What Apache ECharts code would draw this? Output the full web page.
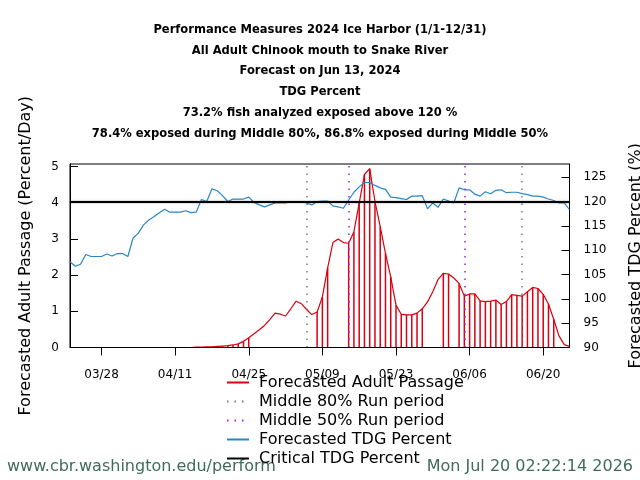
<!DOCTYPE html>
<html>
<head>
<meta charset="utf-8">
<script src="https://cdn.jsdelivr.net/npm/echarts@6/dist/echarts.min.js"></script>
<style>
  html, body { margin: 0; padding: 0; background: #fff; }
  #chart { width: 640px; height: 480px; }
</style>
</head>
<body>
<div id="chart"></div>
<script>
// daily values, 03/22 .. 06/25 (2024)
const passage = [
  0, 0, 0, 0, 0, 0, 0, 0, 0, 0,
  0, 0, 0, 0, 0, 0, 0, 0, 0, 0,
  0, 0, 0, 0, 0.01, 0.01, 0.02, 0.02, 0.03, 0.04,
  0.05, 0.07, 0.10, 0.17, 0.27, 0.38, 0.49, 0.61, 0.77, 0.95,
  0.92, 0.87, 1.07, 1.28, 1.21, 1.05, 0.91, 0.98, 1.40, 2.20,
  2.90, 3.00, 2.90, 2.88, 3.20, 3.99, 4.78, 4.94, 4.04, 3.34,
  2.60, 1.95, 1.17, 0.92, 0.90, 0.90, 0.95, 1.07, 1.26, 1.54,
  1.88, 2.05, 2.03, 1.92, 1.77, 1.42, 1.48, 1.48, 1.29, 1.27,
  1.28, 1.31, 1.19, 1.27, 1.46, 1.44, 1.42, 1.54, 1.66, 1.63,
  1.47, 1.20, 0.78, 0.32, 0.08, 0.03
];

const tdg = [
  107.6, 106.7, 107.1, 109.1, 108.7, 108.7, 108.7, 109.2, 108.8, 109.3,
  109.3, 108.7, 112.5, 113.5, 115.2, 116.2, 116.9, 117.7, 118.4, 117.8,
  117.8, 117.8, 118.1, 117.7, 117.8, 120.4, 120.0, 122.6, 122.2, 121.2,
  120.0, 120.5, 120.5, 120.5, 120.9, 119.8, 119.3, 118.9, 119.3, 119.7,
  119.7, 119.7, 119.9, 119.9, 119.9, 119.7, 119.3, 120.0, 120.1, 120.1,
  119.1, 118.9, 118.6, 120.3, 121.9, 123.0, 123.9, 123.9, 123.3, 122.8,
  122.5, 120.9, 120.8, 120.6, 120.4, 121.1, 121.1, 121.2, 118.5, 119.7,
  118.8, 120.5, 120.1, 119.7, 122.8, 122.4, 122.4, 121.5, 121.1, 122.0,
  121.6, 122.3, 122.4, 121.8, 121.9, 121.9, 121.6, 121.4, 121.1, 121.1,
  120.9, 120.5, 120.2, 119.7, 119.7, 118.3
];

// days (index into passage) when fish were exposed above the critical level
const exposedDays = [
  25, 26, 27, 28, 29, 30, 31, 32, 33, 34,
  47, 48, 49,
  53, 54, 55, 56, 57, 58, 59, 60, 61, 62, 63, 64, 65, 66, 67,
  71, 72,
  74, 75, 76, 77, 78, 79, 80, 81, 82, 83, 84, 85, 86, 87, 88, 89, 90, 91, 92
];

const tickLabels = ['03/28', '04/11', '04/25', '05/09', '05/23', '06/06', '06/20'];
const run80 = ['05/06', '06/16'];
const run50 = ['05/14', '06/05'];
const criticalTdg = 120;

const titleLines = [
  'Performance Measures 2024 Ice Harbor (1/1-12/31)',
  'All Adult Chinook mouth to Snake River',
  'Forecast on Jun 13, 2024',
  'TDG Percent',
  '73.2% fish analyzed exposed above 120 %',
  '78.4% exposed during Middle 80%, 86.8% exposed during Middle 50%'
];

const pad = (n) => (n < 10 ? '0' + n : '' + n);
const days = passage.map((v, i) => {
  const d = new Date(2024, 2, 22 + i);
  return pad(d.getMonth() + 1) + '/' + pad(d.getDate());
});

const drops = passage.map((v, i) => (exposedDays.indexOf(i) >= 0 ? v : '-'));

const showTick = (idx, value) => tickLabels.indexOf(value) >= 0;

const RED = '#d9000f';
const BLUE = '#2a86c6';
const GRAY = '#7a7a7a';
const PURPLE = '#a020f0';

const chart = echarts.init(document.getElementById('chart'), null, { renderer: 'canvas' });

chart.setOption({
  animation: false,
  backgroundColor: '#fff',
  textStyle: { fontFamily: 'DejaVu Sans' },
  title: {
    text: titleLines.join('\n'),
    left: 'center',
    top: 14,
    textStyle: {
      fontFamily: '"DejaVu Sans Condensed", "Liberation Sans", sans-serif',
      fontWeight: 'bold',
      fontSize: 12.8,
      lineHeight: 20.8,
      color: '#000'
    }
  },
  legend: {
    orient: 'vertical',
    left: 226,
    top: 373,
    itemGap: 0,
    itemWidth: 22,
    itemHeight: 10,
    padding: 0,
    itemStyle: { opacity: 0 },
    data: [
      'Forecasted Adult Passage',
      'Middle 80% Run period',
      'Middle 50% Run period',
      'Forecasted TDG Percent',
      'Critical TDG Percent'
    ],
    textStyle: {
      fontFamily: 'DejaVu Sans',
      fontSize: 16,
      lineHeight: 19,
      color: '#000',
      padding: [0, 0, 0, 5]
    }
  },
  grid: {
    left: 70,
    right: 70.5,
    top: 164,
    bottom: 132.5,
    outerBoundsMode: 'none',
    containLabel: false,
    show: true,
    borderColor: '#000',
    borderWidth: 1
  },
  xAxis: {
    type: 'category',
    data: days,
    boundaryGap: false,
    z: 5,
    axisLine: { lineStyle: { color: '#000', width: 1 } },
    axisTick: { inside: false, length: 8, interval: showTick, lineStyle: { color: '#000' } },
    axisLabel: { interval: showTick, margin: 21, fontSize: 12, color: '#000' },
    splitLine: { show: false }
  },
  yAxis: [
    {
      type: 'value',
      min: 0,
      max: 5.07,
      interval: 1,
      name: 'Forecasted Adult Passage (Percent/Day)',
      nameLocation: 'middle',
      nameGap: 35,
      nameTextStyle: { fontSize: 16, color: '#000', lineHeight: 19 },
      axisLine: { show: true, lineStyle: { color: '#000' } },
      axisTick: { show: true, inside: true, length: 8, lineStyle: { color: '#000' } },
      axisLabel: { margin: 11, fontSize: 12, color: '#000', showMaxLabel: false },
      splitLine: { show: false }
    },
    {
      type: 'value',
      min: 90,
      max: 127.7,
      interval: 5,
      name: 'Forecasted TDG Percent (%)',
      nameLocation: 'middle',
      nameGap: 57,
      nameTextStyle: { fontSize: 16, color: '#000', lineHeight: 19 },
      axisLine: { show: true, lineStyle: { color: '#000' } },
      axisTick: { show: true, inside: true, length: 8, lineStyle: { color: '#000' } },
      axisLabel: { margin: 14, fontSize: 12, color: '#000', showMaxLabel: false },
      splitLine: { show: false }
    }
  ],
  series: [
    {
      name: 'Forecasted Adult Passage',
      type: 'line',
      yAxisIndex: 0,
      data: passage,
      symbol: 'none',
      color: RED,
      lineStyle: { color: RED, width: 1.2 },
      z: 3
    },
    {
      name: 'Exposed',
      type: 'bar',
      yAxisIndex: 0,
      data: drops,
      barWidth: 1.5,
      itemStyle: { color: RED },
      z: 3
    },
    {
      name: 'Middle 80% Run period',
      type: 'line',
      data: [],
      symbol: 'none',
      color: GRAY,
      lineStyle: { color: GRAY, width: 1.5, type: [1.5, 6] },
      markLine: {
        silent: true,
        symbol: ['none', 'none'],
        label: { show: false },
        lineStyle: { color: GRAY, width: 1.5, type: [1.5, 6] },
        data: run80.map((d) => ({ xAxis: d }))
      }
    },
    {
      name: 'Middle 50% Run period',
      type: 'line',
      data: [],
      symbol: 'none',
      color: PURPLE,
      lineStyle: { color: PURPLE, width: 1.5, type: [1.5, 6] },
      markLine: {
        silent: true,
        symbol: ['none', 'none'],
        label: { show: false },
        lineStyle: { color: PURPLE, width: 1.5, type: [1.5, 6] },
        data: run50.map((d) => ({ xAxis: d }))
      }
    },
    {
      name: 'Forecasted TDG Percent',
      type: 'line',
      yAxisIndex: 1,
      data: tdg,
      symbol: 'none',
      color: BLUE,
      lineStyle: { color: BLUE, width: 1.2 },
      z: 3
    },
    {
      name: 'Critical TDG Percent',
      type: 'line',
      yAxisIndex: 1,
      data: [],
      symbol: 'none',
      color: '#000',
      lineStyle: { color: '#000', width: 2 },
      markLine: {
        silent: true,
        symbol: ['none', 'none'],
        label: { show: false },
        lineStyle: { color: '#000', width: 2, type: 'solid', shadowColor: 'rgba(0,0,0,0.45)', shadowBlur: 2 },
        data: [{ yAxis: criticalTdg }]
      }
    }
  ],
  graphic: [
    {
      type: 'text',
      left: 7,
      top: 459,
      style: { text: 'www.cbr.washington.edu/perform', font: '16px "DejaVu Sans"', fill: '#3f6b5d' }
    },
    {
      type: 'text',
      right: 7,
      top: 459,
      style: { text: 'Mon Jul 20 02:22:14 2026', font: '16px "DejaVu Sans"', fill: '#3f6b5d' }
    }
  ]
});
</script>
</body>
</html>
